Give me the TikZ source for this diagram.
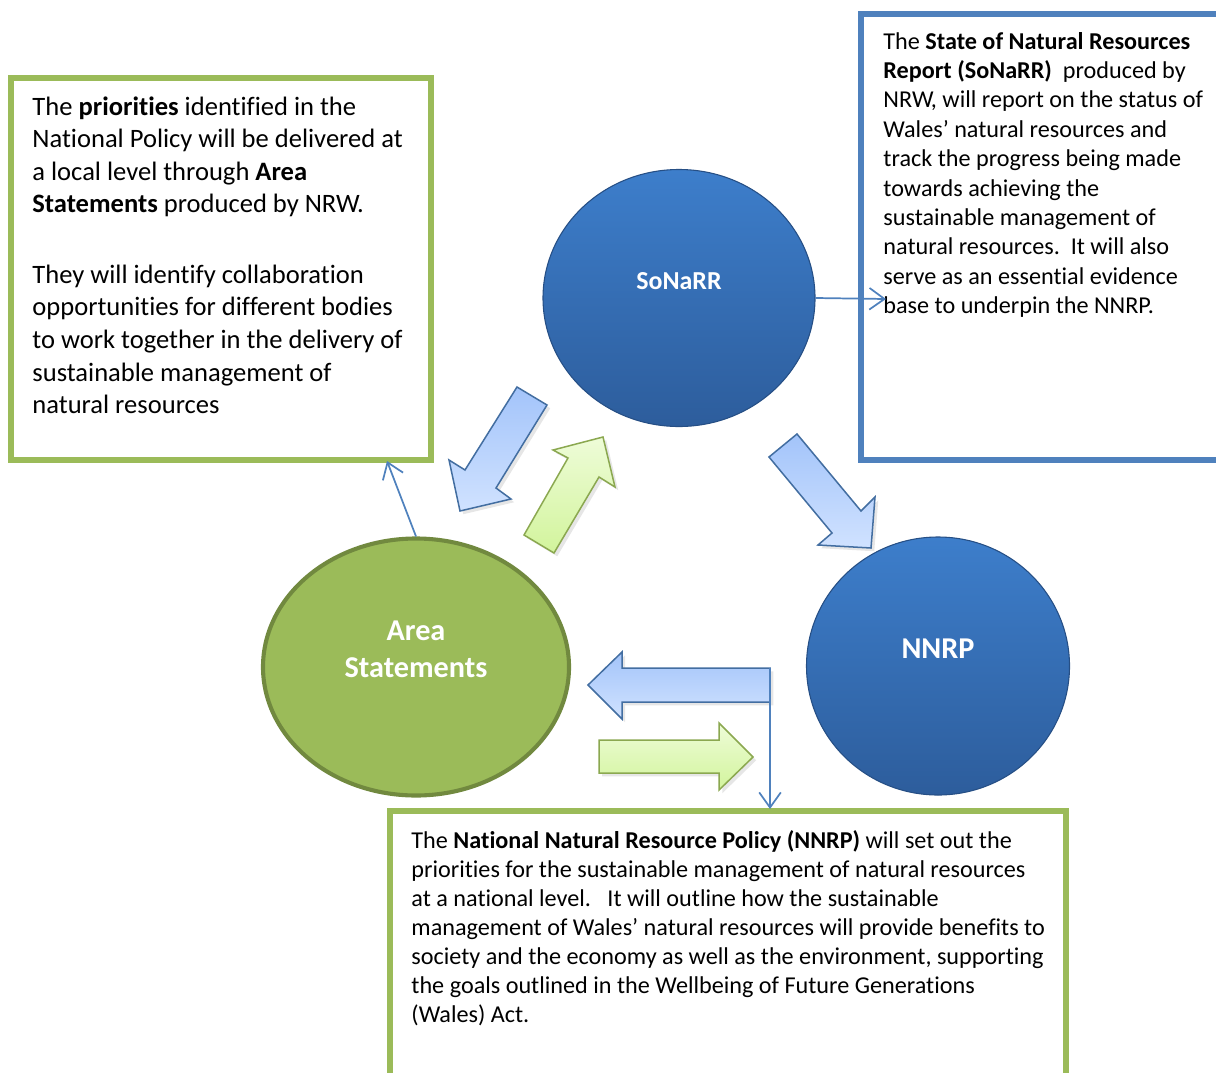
\documentclass[tikz,border=0pt]{standalone}
\usepackage{fontspec}
\setmainfont{Carlito}[Ligatures=CommonOff]
\usetikzlibrary{arrows.meta,shapes.geometric,shadows}
\definecolor{nrwblue}{RGB}{79,129,189}
\definecolor{nrwgreen}{RGB}{155,187,89}
\definecolor{nrwdkgreen}{RGB}{113,137,63}
\definecolor{ballhi}{RGB}{61,126,203}
\definecolor{balllo}{RGB}{45,93,156}
\definecolor{arrblue}{RGB}{163,196,250}
\definecolor{arrbluelt}{RGB}{208,226,255}
\definecolor{arrgreen}{RGB}{210,244,156}
\definecolor{arrgreenlt}{RGB}{238,252,216}
\newcommand{\pxu}{0.463pt}

\begin{document}
\begin{tikzpicture}[x=\pxu, y=-\pxu,
  ball/.style={ellipse, inner sep=0pt, draw=balllo!85!black, line width=0.5pt,
    top color=ballhi, bottom color=balllo},
  balltext/.style={text=white, font=\bfseries, align=center},
  textbox/.style={line width=2.5pt},
  boxtext/.style={anchor=base west, align=left, inner sep=0pt},
  thin/.style={nrwblue, line width=0.8pt, -{Straight Barb[length=7pt,width=10pt]}},
  bluearrow/.style={draw=nrwblue!85!black, line width=0.7pt, top color=arrblue, bottom color=arrbluelt,
    drop shadow={opacity=0.2, shadow xshift=1.5pt, shadow yshift=-1.5pt}},
  greenarrow/.style={draw=nrwgreen!90!black, line width=0.7pt, top color=arrgreenlt, bottom color=arrgreen,
    drop shadow={opacity=0.2, shadow xshift=1.5pt, shadow yshift=-1.5pt}}]
  \useasboundingbox (0,0) rectangle (1216,1072);

  % text boxes (base anchor sits on the last line)
  \draw[textbox, nrwgreen] (11,78) rectangle (431,460);
  \draw[textbox, nrwblue] (1230,14) -- (861,14) -- (861,460) -- (1230,460);
  \draw[textbox, nrwgreen] (390,1085) -- (390,811) -- (1066,811) -- (1066,1085);

  \node[boxtext, font=\fontsize{12.3}{15.05}\selectfont] (prioText) at (32,413.5) {%
    The \textbf{priorities} identified in the\\
    National Policy will be delivered at\\
    a local level through \textbf{Area}\\
    \textbf{Statements} produced by NRW.\\[17.8pt]
    They will identify collaboration\\
    opportunities for different bodies\\
    to work together in the delivery of\\
    sustainable management of\\
    natural resources};
  \node[boxtext, font=\fontsize{11.2}{13.6}\selectfont] (sonarrText) at (883,313.5) {%
    The \textbf{State of Natural Resources}\\
    \textbf{Report (SoNaRR)}\ \ produced by\\
    NRW, will report on the status of\\
    Wales’ natural resources and\\
    track the progress being made\\
    towards achieving the\\
    sustainable management of\\
    natural resources.\ \ It will also\\
    serve as an essential evidence\\
    base to underpin the NNRP.};
  \node[boxtext, font=\fontsize{11.2}{13.4}\selectfont] (nnrpText) at (411,1022) {%
    The \textbf{National Natural Resource Policy (NNRP)} will set out the\\
    priorities for the sustainable management of natural resources\\
    at a national level.\ \ \ It will outline how the sustainable\\
    management of Wales’ natural resources will provide benefits to\\
    society and the economy as well as the environment, supporting\\
    the goals outlined in the Wellbeing of Future Generations\\
    (Wales) Act.};

  % the three parts
  \node[ball, minimum width=272*\pxu, minimum height=257*\pxu,
    label={[balltext, font=\fontsize{12}{14}\bfseries, yshift=8pt]center:SoNaRR}] (sonarr) at (679,298) {};
  \node[ball, minimum width=263*\pxu, minimum height=258*\pxu,
    label={[balltext, font=\fontsize{14}{17}\bfseries, yshift=8pt]center:NNRP}] (nnrp) at (938,666) {};
  \node[ellipse, inner sep=0pt, fill=nrwgreen, draw=nrwdkgreen, line width=1.9pt,
    minimum width=306*\pxu, minimum height=257*\pxu,
    label={[balltext, font=\fontsize{14}{17.1}\bfseries, yshift=8pt]center:Area\\Statements}] (area) at (416,667) {};

  % block arrows
  \draw[bluearrow] (517,387) -- (547,405) -- (496,488) -- (511,499) -- (460,511) -- (449,460) -- (465,470) -- cycle;
  \draw[greenarrow] (524,535) -- (554,553) -- (599,477) -- (615,487) -- (603,437) -- (553,450) -- (568,458) -- cycle;
  \draw[bluearrow] (769,457) -- (797,434) -- (861,511) -- (875,497) -- (871,548) -- (818,545) -- (832,533) -- cycle;
  \draw[bluearrow] (770,668) -- (622,668) -- (622,652) -- (588,685) -- (622,719) -- (622,702) -- (770,702) -- cycle;
  \draw[greenarrow] (599,740) -- (719,740) -- (719,723) -- (753,757) -- (719,790) -- (719,773) -- (599,773) -- cycle;

  % thin connectors
  \coordinate (sonarrIn) at (886,299);
  \coordinate (prioIn) at (387,461);
  \coordinate (leftTail) at (770,668);
  \coordinate (nnrpIn) at (770,809);
  \draw[thin] (sonarr.east) -- (sonarrIn);
  \draw[thin] (area.north) -- (prioIn);
  \draw[thin] (leftTail) -- (nnrpIn);
\end{tikzpicture}
\end{document}
